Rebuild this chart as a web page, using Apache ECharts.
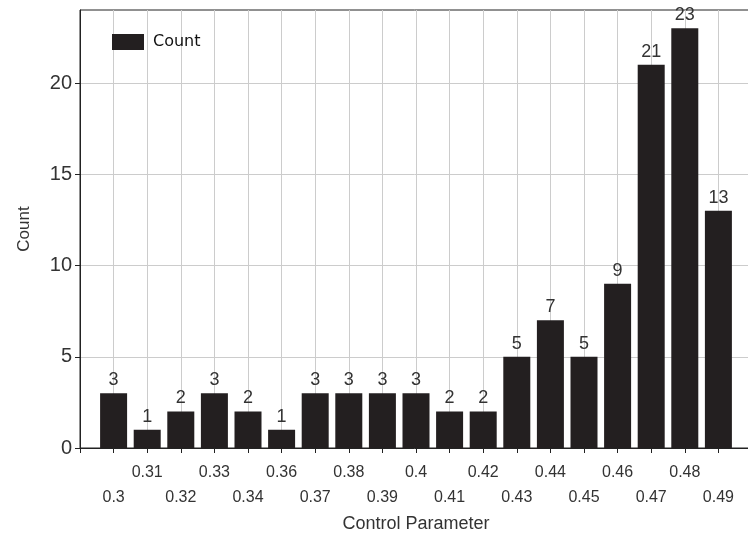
<!DOCTYPE html>
<html>
<head>
<meta charset="utf-8">
<script src="https://cdn.jsdelivr.net/npm/echarts@6/dist/echarts.min.js"></script>
<style>html,body{margin:0;padding:0;background:#fff;}#c{width:748px;height:533px;}</style>
</head>
<body>
<div id="c"></div>
<script>
const categories = ['0.3','0.31','0.32','0.33','0.34','0.36','0.37','0.38','0.39','0.4','0.41','0.42','0.43','0.44','0.45','0.46','0.47','0.48','0.49'];
const counts = [3,1,2,3,2,1,3,3,3,3,2,2,5,7,5,9,21,23,13];
const yTicks = [0,5,10,15,20];

const axisCats = [''].concat(categories, ['']);
const axisVals = [null].concat(counts, [null]);
const FONT = "'Liberation Sans', Arial, sans-serif";

const chart = echarts.init(document.getElementById('c'), null, {renderer:'canvas'});
chart.setOption({
  animation: false,
  backgroundColor: '#fff',
  grid: {left: 80, top: 10, width: 672, height: 438, outerBoundsMode: 'none', containLabel: false,
         show: true, borderColor: '#222', borderWidth: 1, backgroundColor: 'transparent'},
  legend: {
    left: 112, top: 34, padding: 0, itemWidth: 32, itemHeight: 16, icon: 'rect', itemGap: 10,
    textStyle: {fontFamily: "'DejaVu Sans', sans-serif", fontSize: 16, color: '#111', padding: [0, 0, 0, 4]},
    data: ['Count']
  },
  xAxis: {
    type: 'category', data: axisCats, boundaryGap: false,
    name: 'Control Parameter', nameLocation: 'middle', nameGap: 63,
    nameTextStyle: {fontFamily: FONT, fontSize: 18, color: '#333'},
    axisLine: {lineStyle: {color: '#222', width: 1}},
    axisTick: {show: true, interval: 0, length: 5, lineStyle: {color: '#222'}},
    splitLine: {show: true, interval: 0, lineStyle: {color: '#cccccc', width: 1}},
    axisLabel: {
      interval: 0, margin: 12, fontFamily: FONT, fontSize: 16, color: '#333', lineHeight: 25,
      formatter: function (v, i) { if (!v) return ''; return (i % 2 === 1) ? '\n' + v : v; }
    }
  },
  yAxis: {
    type: 'value', min: 0, max: 24, interval: 5,
    name: 'Count', nameLocation: 'middle', nameGap: 47, nameRotate: 90,
    nameTextStyle: {fontFamily: FONT, fontSize: 17, color: '#333'},
    axisLine: {show: true, lineStyle: {color: '#222', width: 1}},
    axisTick: {show: true, length: 5, customValues: yTicks, lineStyle: {color: '#222'}},
    splitLine: {show: true, lineStyle: {color: '#cccccc', width: 1}},
    axisLabel: {
      margin: 8, fontFamily: FONT, fontSize: 20, color: '#333', customValues: yTicks
    }
  },
  series: [{
    name: 'Count', type: 'bar', data: axisVals, barWidth: 27,
    itemStyle: {color: '#231f20'},
    label: {show: true, position: 'top', distance: 4, fontFamily: FONT, fontSize: 18, color: '#333'}
  }]
});
</script>
</body>
</html>
